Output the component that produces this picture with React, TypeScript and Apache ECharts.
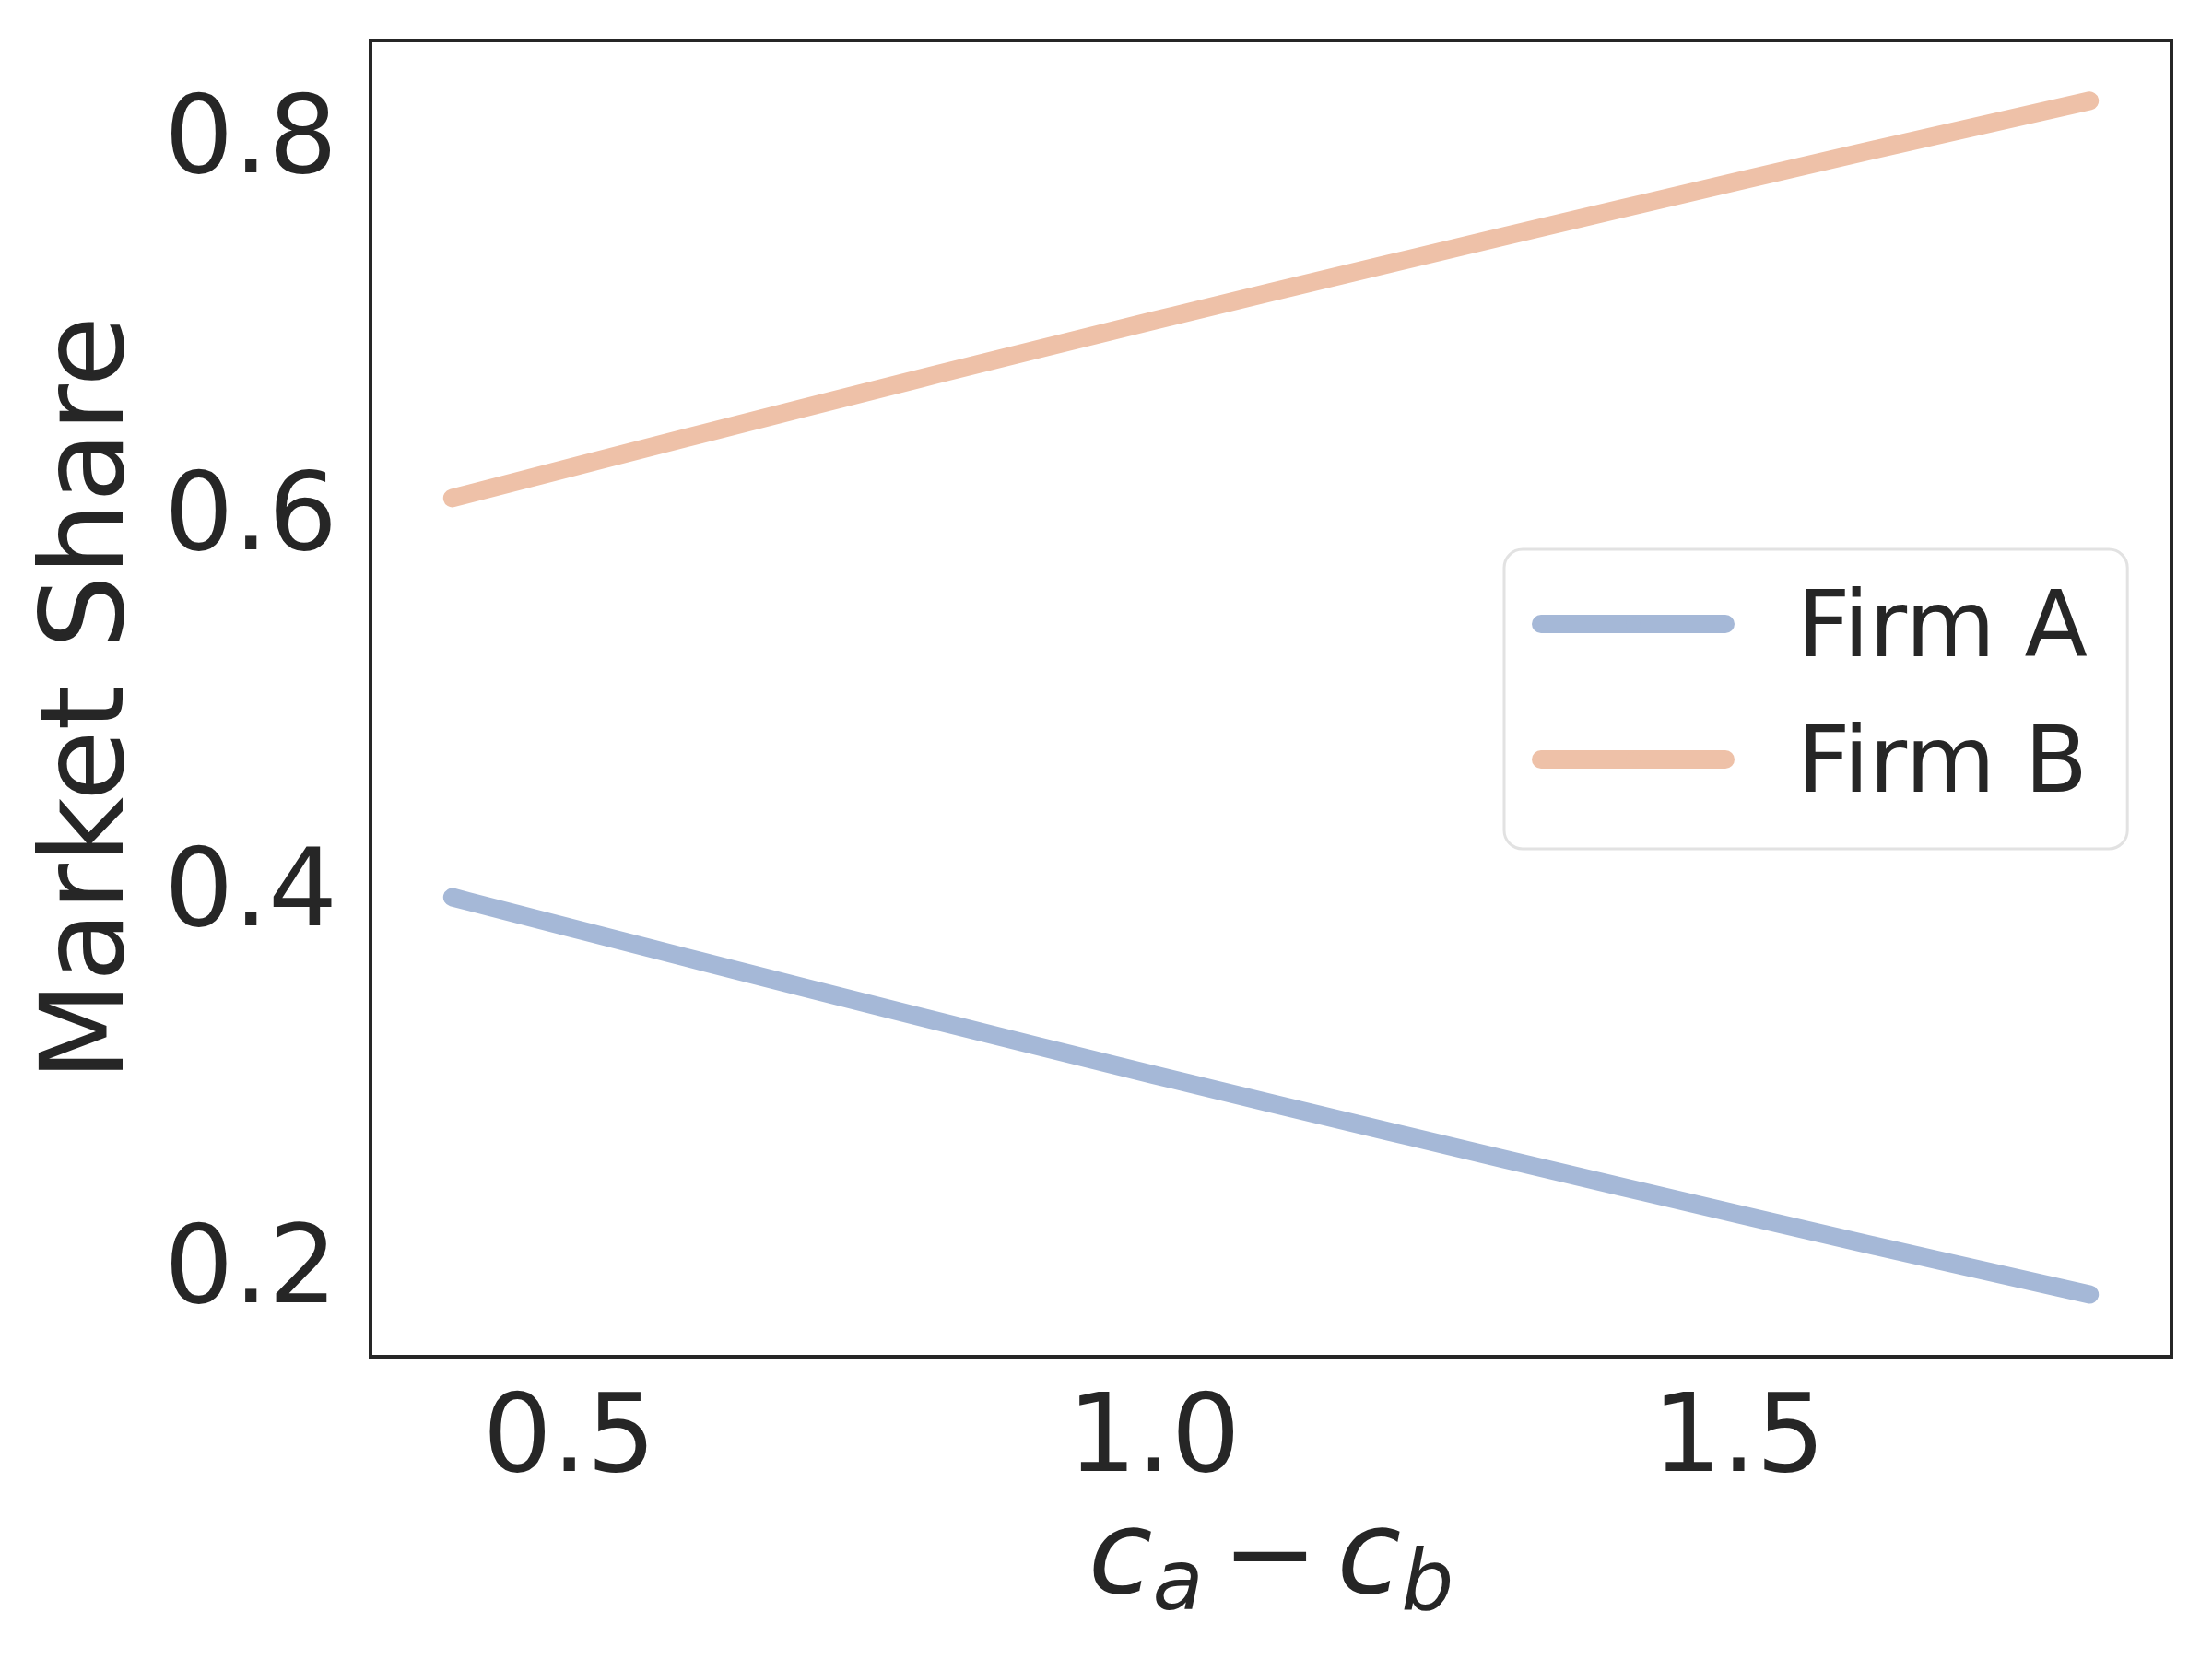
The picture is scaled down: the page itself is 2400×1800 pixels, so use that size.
import React, { useEffect, useRef } from "react";
import * as echarts from "echarts";

// ---- data ----
const costDiff = [0.4, 0.6, 0.8, 1.0, 1.2, 1.4, 1.6, 1.8];
const firmA = [0.395, 0.363, 0.3315, 0.3007, 0.2707, 0.2412, 0.2122, 0.184];
const firmB = [0.607, 0.639, 0.6705, 0.7013, 0.7313, 0.7608, 0.7898, 0.818];
const seriesNames = ["Firm A", "Firm B"];
const xTicks = [0.5, 1.0, 1.5];
const yTicks = [0.2, 0.4, 0.6, 0.8];
const xRange = [0.33, 1.87];
const yRange = [0.151, 0.85];

const INK = "#262626";
const FONT = "DejaVu Sans";
const COLORS = ["#a5b8d7", "#eec1a8"];

export default function App() {
  const ref = useRef<HTMLDivElement>(null);

  useEffect(() => {
    document.body.style.margin = "0";
    if (!ref.current) return;
    const chart = echarts.init(ref.current, undefined, { renderer: "svg" });

    const pairs = (ys: number[]) => costDiff.map((x, i) => [x, ys[i]]);

    chart.setOption({
      animation: false,
      backgroundColor: "#ffffff",
      textStyle: { fontFamily: FONT, color: INK },
      grid: {
        left: 402,
        right: 44,
        top: 44,
        bottom: 328,
        show: true,
        borderColor: INK,
        borderWidth: 4,
        backgroundColor: "transparent",
        containLabel: false,
      },
      xAxis: {
        type: "value",
        min: xRange[0],
        max: xRange[1],
        axisLine: { show: false },
        axisTick: { show: false },
        splitLine: { show: false },
        axisLabel: {
          customValues: xTicks,
          formatter: (v: number) => v.toFixed(1),
          fontFamily: FONT,
          fontSize: 118,
          color: INK,
          margin: 24,
        },
        name: "{c|c}{s|a}{m|\u2212}{c|c}{s|b}",
        nameLocation: "middle",
        nameGap: 137,
        nameTextStyle: {
          color: INK,
          rich: {
            c: {
              fontFamily: FONT,
              fontStyle: "italic",
              fontSize: 127,
              lineHeight: 150,
              color: INK,
            },
            s: {
              fontFamily: FONT,
              fontStyle: "italic",
              fontSize: 90,
              lineHeight: 88,
              verticalAlign: "bottom",
              color: INK,
            },
            m: {
              fontFamily: FONT,
              fontSize: 125,
              lineHeight: 150,
              padding: [0, 20, 0, 20],
              color: INK,
            },
          },
        },
      },
      yAxis: {
        type: "value",
        min: yRange[0],
        max: yRange[1],
        axisLine: { show: false },
        axisTick: { show: false },
        splitLine: { show: false },
        axisLabel: {
          customValues: yTicks,
          formatter: (v: number) => v.toFixed(1),
          fontFamily: FONT,
          fontSize: 118,
          color: INK,
          margin: 36,
        },
        name: "Market Share",
        nameLocation: "middle",
        nameRotate: 90,
        nameGap: 250,
        nameTextStyle: { fontFamily: FONT, fontSize: 125, color: INK },
      },
      legend: {
        data: seriesNames,
        orient: "vertical",
        left: 1632,
        top: 596,
        padding: [31, 43, 47, 30],
        itemGap: 47,
        itemWidth: 200,
        itemHeight: 20,
        backgroundColor: "#ffffff",
        borderColor: "#e2e2e2",
        borderWidth: 3,
        borderRadius: 20,
        textStyle: {
          fontFamily: FONT,
          fontSize: 100,
          color: INK,
          padding: [0, 0, 0, 73],
        },
        lineStyle: { width: 20, cap: "round" },
      },
      series: [
        {
          name: seriesNames[0],
          type: "line",
          data: pairs(firmA),
          symbol: "none",
          showSymbol: false,
          smooth: 0.3,
          color: COLORS[0],
          lineStyle: { width: 20, color: COLORS[0], cap: "round", join: "round" },
        },
        {
          name: seriesNames[1],
          type: "line",
          data: pairs(firmB),
          symbol: "none",
          showSymbol: false,
          smooth: 0.3,
          color: COLORS[1],
          lineStyle: { width: 20, color: COLORS[1], cap: "round", join: "round" },
        },
      ],
    });

    return () => chart.dispose();
  }, []);

  return <div ref={ref} style={{ width: 2400, height: 1800 }} />;
}
